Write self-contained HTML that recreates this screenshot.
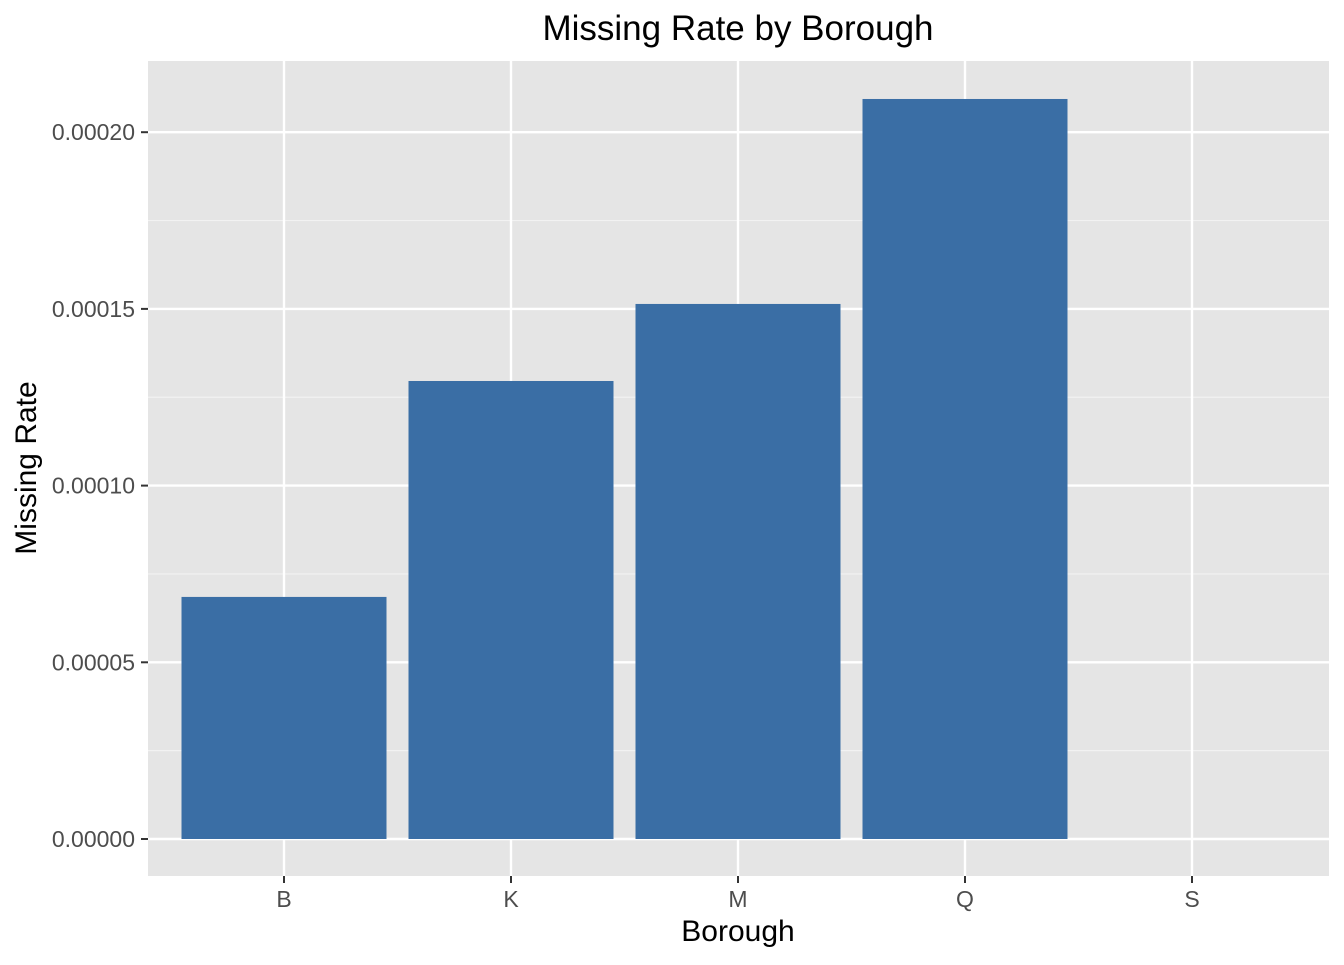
<!DOCTYPE html>
<html><head><meta charset="utf-8"><style>
body{margin:0;background:#fff;}
svg text{font-family:"Liberation Sans",Arial,sans-serif;}
</style></head><body>
<svg id="chart" width="1344" height="960" xmlns="http://www.w3.org/2000/svg">
<text x="738" y="40" text-anchor="middle" font-size="35" fill="#000">Missing Rate by Borough</text>
<rect x="148" y="61" width="1181" height="815" fill="#e5e5e5"/>
<g id="grid"></g>
<g id="bars"></g>
<g id="axes"></g>
<text x="738" y="941" text-anchor="middle" font-size="30" fill="#000">Borough</text>
<text transform="translate(36,468) rotate(-90)" text-anchor="middle" font-size="30" fill="#000">Missing Rate</text>
</svg>
<script>
const categories = ["B","K","M","Q","S"];
const values = [0.0000685, 0.0001296, 0.0001514, 0.0002094, 0];
const yTicks = [0, 0.00005, 0.0001, 0.00015, 0.0002];
const yTickLabels = ["0.00000","0.00005","0.00010","0.00015","0.00020"];

const ns = "http://www.w3.org/2000/svg";
const y0 = 839, pxPerUnit = 176.7 / 0.00005;
function yScale(v){ return y0 - v * pxPerUnit; }
const xStart = 284, step = 227, barW = 205;
function xScale(i){ return xStart + i * step; }
function mk(tag, attrs, parent){
  const e = document.createElementNS(ns, tag);
  for (const k in attrs) e.setAttribute(k, attrs[k]);
  parent.appendChild(e); return e;
}
const grid = document.getElementById("grid"), bars = document.getElementById("bars"), axes = document.getElementById("axes");
for (let i = 0; i < yTicks.length - 1; i++) {
  const y = yScale((yTicks[i] + yTicks[i+1]) / 2);
  const l = mk("line", {x1:148, x2:1329, y1:y, y2:y, stroke:"#f2f2f2", "stroke-width":1.2}, grid);
  
  
}
{
  const y = yScale(yTicks[yTicks.length-1] + 0.000025);
  if (y > 61) {
    const l = mk("line", {x1:148, x2:1329, y1:y, y2:y, stroke:"#f2f2f2", "stroke-width":1.2}, grid);
    
    
  }
}
yTicks.forEach((t, i) => {
  const y = yScale(t);
  const l = mk("line", {x1:148, x2:1329, y1:y, y2:y, stroke:"#fff", "stroke-width":2.4}, grid);
  
  
  const tk = mk("line", {x1:141, x2:148, y1:y, y2:y, stroke:"#333", "stroke-width":2}, axes);
  
  
  const tx = mk("text", {x:135, y:y+8, "text-anchor":"end", "font-size":23, fill:"#4d4d4d"}, axes);
  tx.textContent = yTickLabels[i];
  
  
});
categories.forEach((c, i) => {
  const x = xScale(i);
  const l = mk("line", {x1:x, x2:x, y1:61, y2:876, stroke:"#fff", "stroke-width":2.4}, grid);
  
  
  const top = yScale(values[i]);
  if (values[i] > 0) {
    const r = mk("rect", {x:x - barW/2, y:top, width:barW, height:y0 - top, fill:"#3a6ea5"}, bars);
    
    
  }
  const tk = mk("line", {x1:x, x2:x, y1:876, y2:883, stroke:"#333", "stroke-width":2}, axes);
  
  
  const tx = mk("text", {x:x, y:907, "text-anchor":"middle", "font-size":23, fill:"#4d4d4d"}, axes);
  tx.textContent = c;
  
  
});
</script>
</body></html>
